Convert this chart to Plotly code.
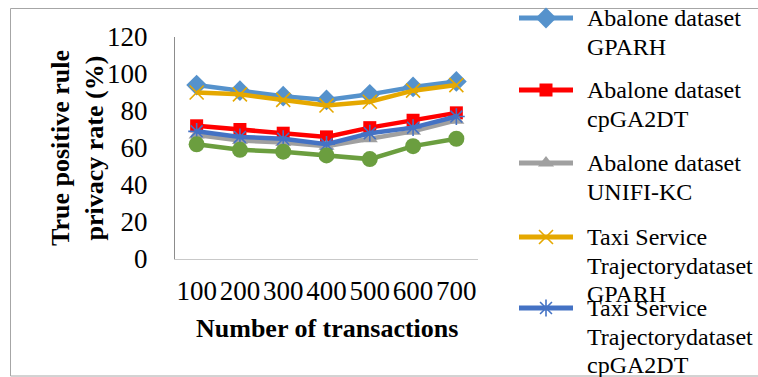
import plotly.graph_objects as go

W, H = 758, 377

# Number of transactions (x categories)
transactions = ["100", "200", "300", "400", "500", "600", "700"]

# True positive rule privacy rate (%) per method / dataset
abalone_gparh = [94, 91, 88, 86, 89, 93, 96]
abalone_cpga2dt = [72, 70, 68, 66, 71, 75, 79]
abalone_unifi_kc = [67, 64, 63, 61, 65, 69, 75]
taxi_gparh = [90, 89, 86, 83, 85, 91, 94]
taxi_cpga2dt = [69, 66, 65, 62, 68, 71, 77]
taxi_unifi_kc = [62, 59, 58, 56, 54, 61, 65]

y_ticks = [0, 20, 40, 60, 80, 100, 120]

SERIF = "Liberation Serif, Times New Roman, serif"

series = [
    dict(name=["Abalone dataset", "GPARH"], y=abalone_gparh, color="#5592CC",
         symbol="diamond", size=16, open=False),
    dict(name=["Abalone dataset", "cpGA2DT"], y=abalone_cpga2dt, color="#FF0000",
         symbol="square", size=13, open=False),
    dict(name=["Abalone dataset", "UNIFI-KC"], y=abalone_unifi_kc, color="#A0A0A0",
         symbol="triangle-up", size=14, open=False),
    dict(name=["Taxi Service", "Trajectorydataset", "GPARH"], y=taxi_gparh, color="#E5A800",
         symbol="x-thin-open", size=14, open=True),
    dict(name=["Taxi Service", "Trajectorydataset", "cpGA2DT"], y=taxi_cpga2dt, color="#4472C4",
         symbol="asterisk-open", size=14, open=True),
    dict(name=["Taxi Service", "Trajectorydataset", "UNIFI-KC"], y=taxi_unifi_kc, color="#6B9E3F",
         symbol="circle", size=16, open=False),
]


def marker_style(s):
    if s["open"]:
        return dict(symbol=s["symbol"], size=s["size"], color=s["color"],
                    line=dict(color=s["color"], width=1.6))
    return dict(symbol=s["symbol"], size=s["size"], color=s["color"],
                line=dict(width=0))


fig = go.Figure()

for s in series:
    fig.add_trace(go.Scatter(
        x=transactions, y=s["y"], mode="lines+markers",
        name=" ".join(s["name"]),
        line=dict(color=s["color"], width=4.5),
        marker=marker_style(s),
        showlegend=False, cliponaxis=False,
        xaxis="x", yaxis="y",
    ))

# Legend keys drawn on a pixel-scaled overlay axis pair
key_rows = [18, 90, 163, 237, 308]
for s, ky in zip(series[:5], key_rows):
    fig.add_trace(go.Scatter(
        x=[519, 546, 573], y=[ky, ky, ky], mode="lines",
        line=dict(color=s["color"], width=5),
        hoverinfo="skip", showlegend=False, xaxis="x2", yaxis="y2",
    ))
    fig.add_trace(go.Scatter(
        x=[546], y=[ky], mode="markers", marker=marker_style(s),
        hoverinfo="skip", showlegend=False, xaxis="x2", yaxis="y2",
    ))

annotations = []
line_gap = 28.5
for s, ky in zip(series[:5], key_rows):
    for i, txt in enumerate(s["name"]):
        annotations.append(dict(
            x=585, y=ky + i * line_gap, xref="x2", yref="y2",
            text=txt, showarrow=False, xanchor="left", yanchor="middle",
            font=dict(family=SERIF, size=24, color="black"),
        ))

# Axis titles
annotations.append(dict(
    x=77 / W, y=1 - 148 / H, xref="paper", yref="paper",
    text="<b>True positive rule<br>privacy rate (%)</b>", textangle=-90,
    showarrow=False, xanchor="center", yanchor="middle",
    font=dict(family=SERIF, size=26, color="black"),
))
annotations.append(dict(
    x=(175 + 478) / 2 / W, y=1 - 328 / H, xref="paper", yref="paper",
    text="<b>Number of transactions</b>",
    showarrow=False, xanchor="center", yanchor="middle",
    font=dict(family=SERIF, size=26, color="black"),
))

fig.update_layout(
    width=W, height=H,
    margin=dict(l=0, r=0, t=0, b=0, pad=0, autoexpand=False),
    paper_bgcolor="white", plot_bgcolor="rgba(0,0,0,0)",
    xaxis=dict(
        domain=[175 / W, 478 / W], type="category", range=[-0.5, 6.5],
        showgrid=False, zeroline=False, automargin=False,
        showline=True, linecolor="#C9C9C9", linewidth=1.2,
        ticks="", tickfont=dict(family=SERIF, size=27, color="black"),
        ticklabelstandoff=7, anchor="y",
    ),
    yaxis=dict(
        domain=[1 - 259 / H, 1 - 37 / H], range=[0, 120],
        tickvals=y_ticks, showgrid=False, zeroline=False, automargin=False,
        showline=True, linecolor="#8C8C8C", linewidth=1.2,
        ticks="", tickfont=dict(family=SERIF, size=27, color="black"),
        ticklabelstandoff=21, anchor="x",
    ),
    xaxis2=dict(domain=[0, 1], range=[0, W], visible=False, fixedrange=True,
                anchor="y2", automargin=False),
    yaxis2=dict(domain=[0, 1], range=[H, 0], visible=False, fixedrange=True,
                anchor="x2", automargin=False),
    annotations=annotations,
    shapes=[dict(
        type="rect", xref="paper", yref="paper",
        x0=10.5 / W, x1=1.02, y0=1 - 376 / H, y1=1 - 8.5 / H,
        line=dict(color="#A6A6A6", width=1), fillcolor="rgba(0,0,0,0)",
        layer="below",
    )],
    showlegend=False,
)

fig.write_html("out.html")
